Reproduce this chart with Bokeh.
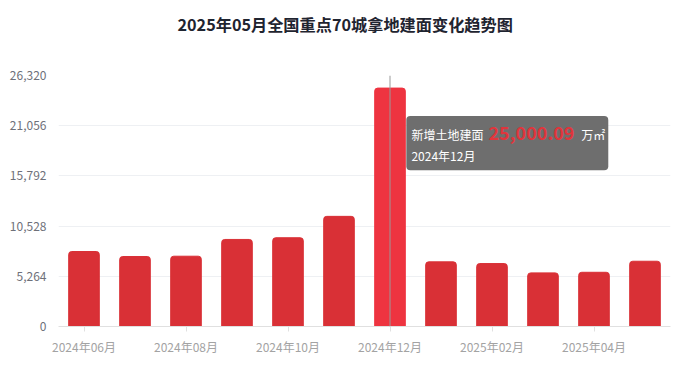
from bokeh.plotting import figure
from bokeh.models import Range1d, FixedTicker, BoxAnnotation, Label, Span, ColumnDataSource, NumeralTickFormatter, Title
from bokeh.embed import file_html
from bokeh.resources import INLINE

months = ["2024年06月", "2024年07月", "2024年08月", "2024年09月", "2024年10月", "2024年11月",
          "2024年12月", "2025年01月", "2025年02月", "2025年03月", "2025年04月", "2025年05月"]
values = [7864, 7338, 7370, 9128, 9307, 11549, 25000.09, 6780, 6601, 5622, 5685, 6843]
y_ticks = [0, 5264, 10528, 15792, 21056, 26320]
highlight = 6
title_text = "2025年05月全国重点70城拿地建面变化趋势图"
series_name = "新增土地建面"
unit = "万㎡"

FONT = "Noto Sans CJK SC"
BAR = "#d93036"
BAR_HI = "#ee3440"

xs = list(range(len(months)))
colors = [BAR_HI if i == highlight else BAR for i in xs]
src = ColumnDataSource(dict(x=xs, top=values, color=colors))

p = figure(width=692, height=369, output_backend="svg", toolbar_location=None,
           x_range=Range1d(-0.5, len(months) - 0.5), y_range=Range1d(0, y_ticks[-1]),
           min_border_left=58, min_border_right=22, min_border_bottom=43, min_border_top=75)
p.outline_line_color = None
p.background_fill_color = "white"
p.border_fill_color = "white"

# spacer panel between title and plot frame, then the title itself
p.add_layout(Title(text=" ", text_font=FONT, text_font_size="12px", standoff=21), "above")
p.add_layout(Title(text=title_text, align="left", offset=119, standoff=0, text_font=FONT,
                   text_font_size="16.2px", text_font_style="bold", text_color="#1f2430"), "above")

p.vbar(x="x", top="top", width=0.6, color="color", source=src, border_radius=(3, 3, 0, 0))

# axes
p.xaxis.ticker = FixedTicker(ticks=xs[::2])
p.xaxis.major_label_overrides = {i: months[i] for i in xs}
p.xaxis.major_label_text_font = FONT
p.xaxis.major_label_text_font_size = "12px"
p.xaxis.major_label_text_color = "#a3a3a3"
p.xaxis.axis_line_color = "#e0e0e0"
p.xaxis.major_tick_line_color = "#e0e0e0"
p.xaxis.major_tick_out = 5
p.xaxis.major_tick_in = 0
p.xaxis.minor_tick_line_color = None
p.xaxis.major_label_standoff = 6

p.yaxis.ticker = FixedTicker(ticks=y_ticks)
p.yaxis.formatter = NumeralTickFormatter(format="0,0")
p.yaxis.major_label_text_font = FONT
p.yaxis.major_label_text_font_size = "12px"
p.yaxis.major_label_text_color = "#6e7079"
p.yaxis.axis_line_color = None
p.yaxis.major_tick_line_color = None
p.yaxis.minor_tick_line_color = None
p.yaxis.major_label_standoff = 6

p.xgrid.grid_line_color = None
p.ygrid.grid_line_color = "#eef0f3"
p.ygrid.ticker = FixedTicker(ticks=y_ticks)

# hover indicator and tooltip
p.add_layout(Span(location=highlight, dimension="height", line_color="#999999", line_width=1))

hx = highlight
p.add_layout(BoxAnnotation(left=hx + 0.32, right=hx + 4.28, top=22077, bottom=16392,
                           fill_color="#6e6e6e", fill_alpha=1.0, line_color=None, border_radius=4))
p.add_layout(Label(x=hx + 0.42, y=20182, text=series_name, text_font=FONT, text_font_size="12px",
                   text_color="white", text_baseline="middle"))
p.add_layout(Label(x=hx + 1.93, y=20319, text=f"{values[highlight]:,.2f}", text_font=FONT,
                   text_font_size="18px", text_font_style="bold", text_color="#e0353c", text_baseline="middle"))
p.add_layout(Label(x=hx + 3.75, y=20182, text=unit, text_font=FONT, text_font_size="12px",
                   text_color="white", text_baseline="middle"))
p.add_layout(Label(x=hx + 0.42, y=17971, text=months[highlight], text_font=FONT, text_font_size="12px",
                   text_color="white", text_baseline="middle"))

open("out.html", "w").write(file_html(p, INLINE))
